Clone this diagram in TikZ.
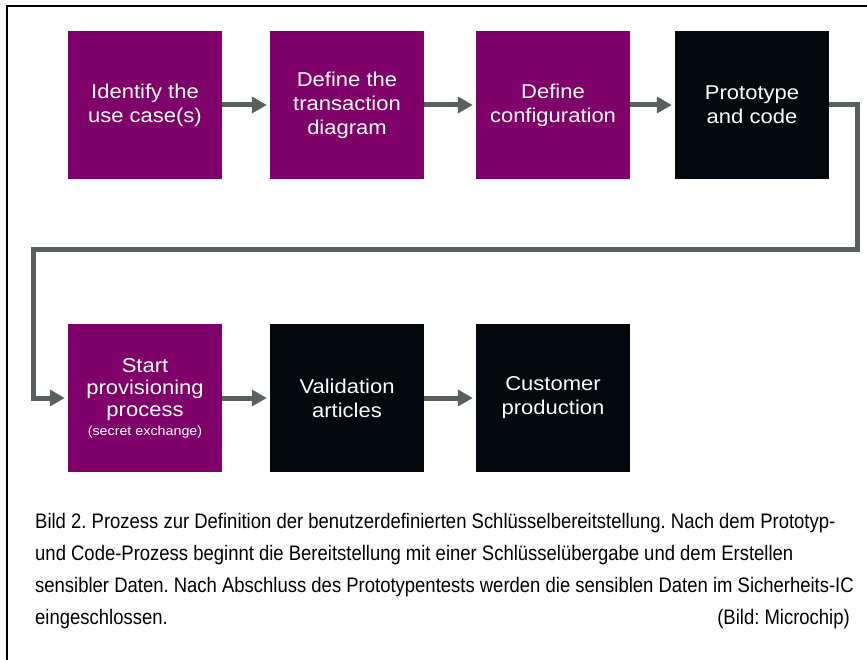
\documentclass[tikz,border=0pt]{standalone}
\usepackage{fontspec}
\setmainfont{Liberation Sans}
\newfontfamily\kastenfont[FakeStretch=1.1]{Liberation Sans}
\newfontfamily\bildfont[FakeStretch=0.88]{Liberation Sans}
\usetikzlibrary{arrows.meta}
\definecolor{mclila}{RGB}{128,0,106}
\definecolor{mcschwarz}{RGB}{3,8,13}
\definecolor{mcgrau}{RGB}{90,96,94}
\frenchspacing

\begin{document}
\begin{tikzpicture}[x=1pt,y=-1pt,
  schritt/.style={minimum width=154pt,minimum height=148pt,inner sep=0pt,
    text=white,align=center,font=\kastenfont\fontsize{20}{24}\selectfont},
  lila/.style={schritt,fill=mclila},
  schwarz/.style={schritt,fill=mcschwarz},
  pfeil/.style={draw=mcgrau,line width=5pt,shorten >=3pt,
    -{Triangle[length=15pt,width=16pt]}}]
\useasboundingbox (0,0) rectangle (867,660);

% Rahmen
\draw[line width=1.5pt] (7,660) -- (7,6) -- (867,6);

% Obere Reihe
\node[lila] (usecase) at (145,105) {Identify the\\use case(s)};
\node[lila] (diagramm) at (347,105) {Define the\\transaction\\diagram};
\node[lila] (konfig) at (553,105) {Define\\configuration};
\node[schwarz] (proto) at (752,105) {Prototype\\and code};

% Untere Reihe
\node[lila,font=\kastenfont\fontsize{20}{22}\selectfont] (start) at (145,398)
  {Start\\provisioning\\process\\[-3pt]{\fontsize{13}{14}\selectfont (secret exchange)}};
\node[schwarz] (valid) at (347,398) {Validation\\articles};
\node[schwarz] (kunde) at (553,398) {Customer\\production};

% Pfeile
\draw[pfeil] (usecase) -- (diagramm);
\draw[pfeil] (diagramm) -- (konfig);
\draw[pfeil] (konfig) -- (proto);
\coordinate (eckeR) at (857,250);
\coordinate (eckeL) at (33,250);
\draw[pfeil] (proto.east) -| (eckeR) -- (eckeL) |- (start.west);
\draw[pfeil] (start) -- (valid);
\draw[pfeil] (valid) -- (kunde);

% Bildunterschrift
\node[anchor=base west,align=left,inner sep=0pt,
  font=\bildfont\fontsize{21}{32}\selectfont] (bildtext) at (35,624)
  {Bild 2. Prozess zur Definition der benutzerdefinierten Schlüsselbereitstellung. Nach dem Prototyp-\\
   und Code-Prozess beginnt die Bereitstellung mit einer Schlüsselübergabe und dem Erstellen\\
   sensibler Daten. Nach Abschluss des Prototypentests werden die sensiblen Daten im Sicherheits-IC\\
   eingeschlossen.};
\node[anchor=base east,inner sep=0pt,font=\bildfont\fontsize{21}{32}\selectfont]
  (quelle) at (850,624) {(Bild: Microchip)};
\end{tikzpicture}
\end{document}
